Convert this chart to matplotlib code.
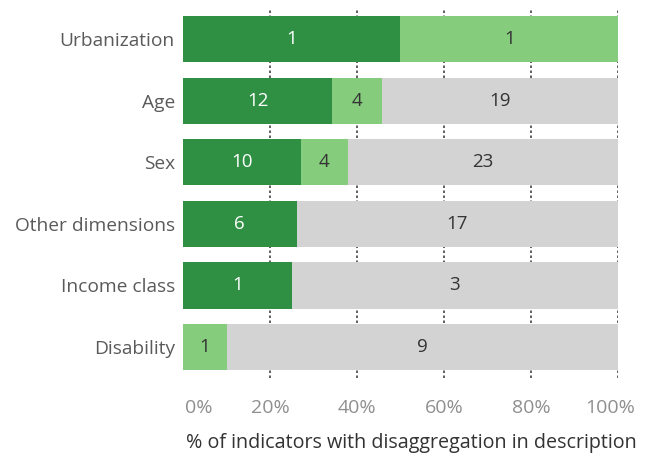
import matplotlib.pyplot as plt
import matplotlib.transforms as mtransforms
import numpy as np

categories = ['Urbanization', 'Age', 'Sex', 'Other dimensions', 'Income class', 'Disability']
full = [1, 12, 10, 6, 1, 0]
partial = [1, 4, 4, 0, 0, 1]
none_ = [0, 19, 23, 17, 3, 9]

colors = ['#2f8f43', '#85cc7c', '#d3d3d3']
text_colors = ['white', '#333333', '#333333']

plt.rcParams['font.family'] = ['Open Sans', 'DejaVu Sans']

counts = np.array([full, partial, none_], dtype=float)
totals = counts.sum(axis=0)
pcts = counts / totals * 100

fig = plt.figure(figsize=(6.47, 4.58), dpi=100)
ax = fig.add_axes([0.283, 0.175, 0.672, 0.807])

y = np.arange(len(categories))
left = np.zeros(len(categories))
for k in range(3):
    ax.barh(y, pcts[k], left=left, height=0.75, color=colors[k], zorder=2)
    for i in range(len(categories)):
        if counts[k, i] > 0:
            ax.text(left[i] + pcts[k, i] / 2, y[i], str(int(counts[k, i])),
                    ha='center', va='center', fontsize=13.5, color=text_colors[k], zorder=3)
    left += pcts[k]

for gx in [20, 40, 60, 80, 100]:
    ax.axvline(gx, color='#444444', linestyle=(0, (1.5, 1.5)), linewidth=1.2, zorder=1)

ax.set_xlim(0, 100)
ax.set_ylim(len(categories) - 0.5, -0.5)
ax.set_yticks(y)
ax.set_yticklabels(categories, fontsize=13.8, color='#5a5a5a')
ax.set_xticks([0, 20, 40, 60, 80, 100])
ax.set_xticklabels(['0%', '20%', '40%', '60%', '80%', '100%'], fontsize=14, color='#8f8f8f')
ax.tick_params(axis='both', length=0)
ax.tick_params(axis='y', pad=6)
ax.tick_params(axis='x', pad=15)
xt = ax.get_xticklabels()
xt[0].set_ha('left')
xt[0].set_transform(xt[0].get_transform() + mtransforms.ScaledTranslation(0.02, 0, fig.dpi_scale_trans))
xt[-1].set_transform(xt[-1].get_transform() + mtransforms.ScaledTranslation(-0.08, 0, fig.dpi_scale_trans))
ax.set_xlabel('% of indicators with disaggregation in description', fontsize=14.2,
              color='#333333', labelpad=12, x=0.525)
for s in ax.spines.values():
    s.set_visible(False)

fig.savefig('out.png', dpi=100)
